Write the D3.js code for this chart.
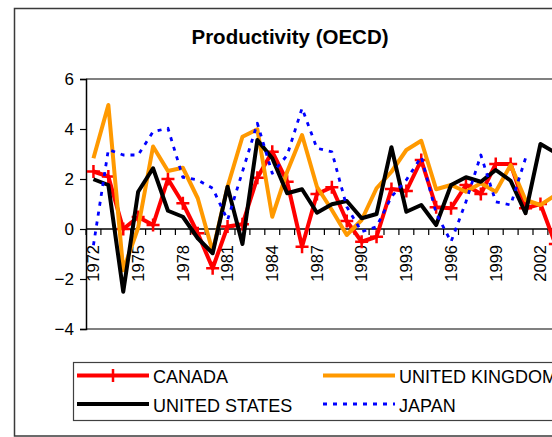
<!DOCTYPE html>
<html>
<head>
<meta charset="utf-8">
<script src="https://cdn.jsdelivr.net/npm/d3@7"></script>
<style>
  html, body { margin: 0; padding: 0; background: #fff; overflow: hidden; }
  svg { display: block; font-family: Arial, "Liberation Sans", sans-serif; }
</style>
</head>
<body>
<svg id="chart" width="552" height="437"></svg>
<script>
const years = [1972,1973,1974,1975,1976,1977,1978,1979,1980,1981,1982,1983,1984,1985,1986,1987,
               1988,1989,1990,1991,1992,1993,1994,1995,1996,1997,1998,1999,2000,2001,2002,2003];
const xTickLabels = ["1972","1975","1978","1981","1984","1987","1990","1993","1996","1999","2002"];
const yTicks = [-4, -2, 0, 2, 4, 6];

const canada = [2.3, 2.1, 0.0, 0.48, 0.16, 2.0, 1.03, -0.17, -1.57, 0.1, 0.19, 2.05, 3.09, 1.89, -0.71, 1.4,
                1.67, 0.32, -0.51, -0.31, 1.6, 1.52, 2.76, 0.87, 0.83, 1.76, 1.4, 2.6, 2.6, 0.83, 1.0, -0.6];
const unitedKingdom = [2.83, 4.96, -1.65, 0.05, 3.3, 2.32, 2.45, 1.23, -0.9, 1.69, 3.69, 3.99, 0.49, 2.29, 3.76, 1.69,
                0.76, -0.24, 0.36, 1.63, 2.29, 3.16, 3.53, 1.59, 1.76, 1.49, 1.83, 1.49, 2.56, 1.16, 0.96, 1.35];
const unitedStates = [1.99, 1.76, -2.51, 1.49, 2.43, 0.73, 0.49, -0.37, -0.97, 1.69, -0.6, 3.56, 2.83, 1.43, 1.59, 0.65,
                0.99, 1.12, 0.43, 0.6, 3.27, 0.69, 0.96, 0.16, 1.76, 2.07, 1.89, 2.36, 1.93, 0.63, 3.4, 3.05];
const japan = [-0.65, 3.18, 2.96, 2.96, 3.89, 4.03, 2.07, 1.96, 1.63, 0.36, 2.29, 4.23, 2.23, 2.95, 4.83, 3.23,
                3.09, 0.89, -0.11, 0.09, 1.29, 1.96, 2.89, 0.63, -0.51, 1.09, 2.96, 1.09, 0.96, 2.83, null, null];

const seriesNames = ["CANADA", "UNITED KINGDOM", "UNITED STATES", "JAPAN"];
const seriesValues = [canada, unitedKingdom, unitedStates, japan];
const seriesColors = ["#FF0000", "#FF9900", "#000000", "#0000FF"];

const svg = d3.select("#chart");
const FONT = 'Arial, "Liberation Sans", sans-serif';

// chart border
svg.append("rect").attr("x", 14.5).attr("y", 8.5).attr("width", 600).attr("height", 427.5)
  .attr("fill", "#fff").attr("stroke", "#3a3a3a").attr("stroke-width", 1.5);

// title
svg.append("text").attr("x", 290).attr("y", 44).attr("text-anchor", "middle")
  .style("font-weight", "bold").style("font-size", "20.5px").text("Productivity (OECD)");

const plotLeft = 86, step = 14.9;
const x = d3.scaleBand().domain(years).range([plotLeft, plotLeft + step * years.length]).padding(0);
const y = d3.scaleLinear().domain([-4, 6]).range([329, 79]);
const plotRight = plotLeft + step * years.length;

// plot border top & bottom (gray)
svg.append("line").attr("x1", plotLeft).attr("x2", plotRight).attr("y1", y(6)).attr("y2", y(6))
  .attr("stroke", "#808080").attr("stroke-width", 2);
svg.append("line").attr("x1", plotLeft).attr("x2", plotRight).attr("y1", y(-4)).attr("y2", y(-4))
  .attr("stroke", "#808080").attr("stroke-width", 2);

// y axis
const yAxis = d3.axisLeft(y).tickValues(yTicks).tickSize(6).tickPadding(6).tickFormat(d3.format("d"));
const gy = svg.append("g").attr("transform", `translate(${plotLeft},0)`).call(yAxis);
gy.select(".domain").attr("stroke", "#000").attr("stroke-width", 1.5);
gy.selectAll(".tick line").attr("stroke", "#000").attr("stroke-width", 1.2);
gy.selectAll(".tick text").style("font-size", "17px").style("font-family", FONT).attr("fill", "#000");

// x axis at zero (ticks at category boundaries)
const boundaries = years.map(yr => x(yr)).concat([plotRight]);
const gx = svg.append("g");
gx.append("line").attr("x1", plotLeft).attr("x2", plotRight).attr("y1", y(0)).attr("y2", y(0))
  .attr("stroke", "#000").attr("stroke-width", 1.3);
gx.selectAll("line.tk").data(boundaries).join("line").attr("class", "tk")
  .attr("x1", d => d).attr("x2", d => d).attr("y1", y(0)).attr("y2", y(0) + 6)
  .attr("stroke", "#000").attr("stroke-width", 1.2);
gx.selectAll("text.lbl").data(xTickLabels).join("text").attr("class", "lbl")
  .attr("transform", d => `translate(${x(+d) + x.bandwidth() / 2},245) rotate(-90)`)
  .attr("text-anchor", "end").attr("dy", "0.35em")
  .style("font-size", "16.5px").text(d => d);

// lines
const cx = i => x(years[i]) + x.bandwidth() / 2;
const line = d3.line().defined(d => d != null).x((d, i) => cx(i)).y(d => y(d));

const g = svg.append("g");
seriesValues.forEach((vals, si) => {
  const p = g.append("path").datum(vals).attr("d", line).attr("fill", "none")
    .attr("stroke", seriesColors[si]).attr("stroke-linejoin", "round");
  if (si === 3) {
    p.attr("stroke-width", 2.8).attr("stroke-dasharray", "4,6");
  } else {
    p.attr("stroke-width", 4);
  }
  if (si === 0) {
    g.selectAll("path.mk").data(vals.map((v, i) => [cx(i), v]).filter(d => d[1] != null))
      .join("path").attr("class", "mk")
      .attr("d", d => `M${d[0] - 6.5},${y(d[1])}H${d[0] + 6.5}M${d[0]},${y(d[1]) - 6.5}V${y(d[1]) + 6.5}`)
      .attr("stroke", seriesColors[0]).attr("stroke-width", 2.5).attr("fill", "none");
  }
});

// legend
const lg = svg.append("g");
lg.append("rect").attr("x", 73.5).attr("y", 362.5).attr("width", 600).attr("height", 58)
  .attr("fill", "none").attr("stroke", "#404040").attr("stroke-width", 1.2);
const legendPos = [[77, 375.5], [323, 375.5], [77, 404], [323, 404]];
seriesNames.forEach((name, si) => {
  const [lx, ly] = legendPos[si];
  const ln = lg.append("line").attr("x1", lx).attr("x2", lx + 72).attr("y1", ly).attr("y2", ly)
    .attr("stroke", seriesColors[si]);
  if (si === 3) ln.attr("stroke-width", 2.8).attr("stroke-dasharray", "4,6");
  else ln.attr("stroke-width", 4);
  if (si === 0) {
    lg.append("path").attr("d", `M${lx + 36},${ly - 6.5}V${ly + 6.5}`)
      .attr("stroke", seriesColors[0]).attr("stroke-width", 2.5);
  }
  lg.append("text").attr("x", lx + 76).attr("y", ly + 7.5).style("font-size", "18px").text(name);
});
</script>
</body>
</html>
